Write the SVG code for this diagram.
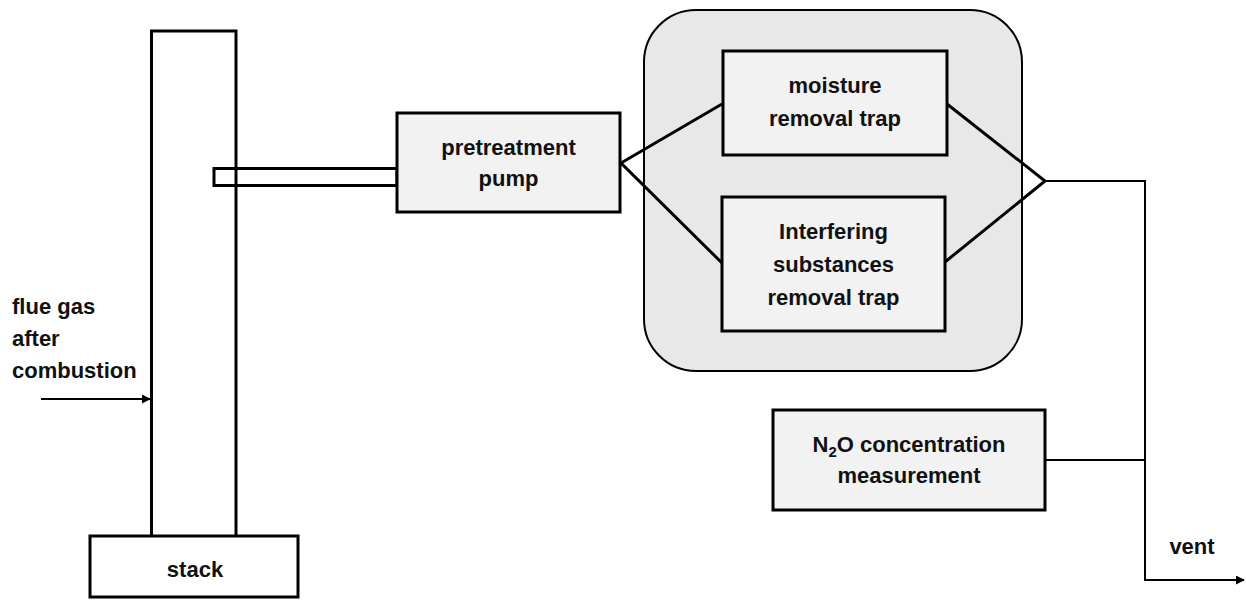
<svg xmlns="http://www.w3.org/2000/svg" width="1246" height="600" viewBox="0 0 1246 600">
<defs>
<marker id="ah" viewBox="0 0 10 10" refX="9" refY="5" markerWidth="4.5" markerHeight="4.5" orient="auto" markerUnits="strokeWidth">
<path d="M0,0 L10,5 L0,10 Z" fill="#000"/>
</marker>
<style>
.box{fill:#f2f2f2;stroke:#000;stroke-width:3}
.wbox{fill:#fff;stroke:#000;stroke-width:3}
.ln{fill:none;stroke:#000;stroke-width:3}
.thin{fill:none;stroke:#000;stroke-width:2}
text{font-family:"Liberation Sans",Arial,sans-serif;font-weight:bold;font-size:22px;fill:#111}
.c{text-anchor:middle}
</style>
</defs>
<rect width="1246" height="600" fill="#fff"/>
<g id="container">
<rect x="644" y="10" width="378" height="361" rx="52" fill="#e8e8e8" stroke="#000" stroke-width="2"/>
</g>
<g id="stack-column">
<rect class="wbox" x="151.5" y="31" width="84.5" height="506"/>
</g>
<g id="stack">
<rect class="wbox" x="90" y="536" width="208" height="61"/>
<text class="c" x="195" y="577">stack</text>
</g>
<g id="probe">
<rect fill="none" stroke="#000" stroke-width="3" x="214" y="168.5" width="183" height="17"/>
</g>
<g id="pump">
<rect class="box" x="397" y="113" width="223" height="99"/>
<text class="c" x="508.5" y="155">pretreatment</text>
<text class="c" x="508.5" y="186">pump</text>
</g>
<g id="moisture">
<rect class="box" x="723" y="51" width="224" height="104"/>
<text class="c" x="835" y="93">moisture</text>
<text class="c" x="835" y="126">removal trap</text>
</g>
<g id="interfering">
<rect class="box" x="722" y="197" width="223" height="134"/>
<text class="c" x="833.5" y="239">Interfering</text>
<text class="c" x="833.5" y="272">substances</text>
<text class="c" x="833.5" y="305">removal trap</text>
</g>
<g id="n2o">
<rect class="box" x="773" y="410" width="272" height="100"/>
<text class="c" x="909" y="452">N<tspan font-size="15" dy="5">2</tspan><tspan dy="-5">O concentration</tspan></text>
<text class="c" x="909" y="483">measurement</text>
</g>
<g id="flue-label">
<text x="12" y="314">flue gas</text>
<text x="12" y="346">after</text>
<text x="12" y="378">combustion</text>
</g>
<g id="vent-label">
<text class="c" x="1192" y="554">vent</text>
</g>
<g id="connectors">
<path class="ln" d="M722,104 L621,163 L722,263"/>
<path class="ln" d="M947,104 L1045,181 L945,262"/>
<path class="thin" d="M1045,181 L1145,181 L1145,580 L1244,580" marker-end="url(#ah)"/>
<path class="thin" d="M1045,460 L1145,460"/>
<path class="thin" d="M41,399 L150,399" marker-end="url(#ah)"/>
</g>
</svg>
